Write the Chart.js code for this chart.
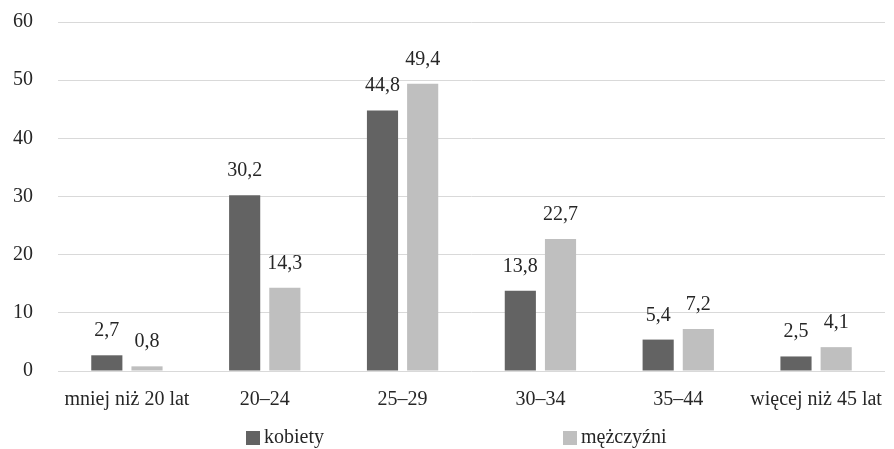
<!DOCTYPE html>
<html lang="pl">
<head>
<meta charset="utf-8">
<title>Wiek</title>
<script src="https://cdn.jsdelivr.net/npm/chart.js@4/dist/chart.umd.min.js"></script>
<style>
  html, body { margin: 0; padding: 0; background: #ffffff; }
  #wrap { width: 894px; height: 449px; position: relative; }
</style>
</head>
<body>
<div id="wrap"><canvas id="chart"></canvas></div>
<script>
// Age groups and shares (%) per sex
const categories = ['mniej niż 20 lat', '20–24', '25–29', '30–34', '35–44', 'więcej niż 45 lat'];
const kobiety = [2.7, 30.2, 44.8, 13.8, 5.4, 2.5];
const mezczyzni = [0.8, 14.3, 49.4, 22.7, 7.2, 4.1];
const seriesNames = ['kobiety', 'mężczyźni'];
const yTicks = [0, 10, 20, 30, 40, 50, 60];

const FONT = "'Liberation Serif', 'Times New Roman', 'DejaVu Serif', serif";
const TEXT = '#262626';
const COLORS = ['#636363', '#bfbfbf'];

// Value labels above each bar, with a decimal comma
const valueLabels = {
  id: 'valueLabels',
  afterDatasetsDraw(chart) {
    const ctx = chart.ctx;
    ctx.save();
    ctx.font = '20px ' + FONT;
    ctx.fillStyle = TEXT;
    ctx.textAlign = 'center';
    ctx.textBaseline = 'alphabetic';
    chart.data.datasets.forEach((ds, i) => {
      chart.getDatasetMeta(i).data.forEach((bar, j) => {
        const txt = ds.data[j].toFixed(1).replace('.', ',');
        ctx.fillText(txt, bar.x, bar.y - 19);
      });
    });
    ctx.restore();
  }
};

// Legend spread across the bottom
const spreadLegend = {
  id: 'spreadLegend',
  afterDraw(chart, args, opts) {
    const ctx = chart.ctx;
    ctx.save();
    ctx.font = '20px ' + FONT;
    ctx.textBaseline = 'middle';
    ctx.textAlign = 'left';
    chart.data.datasets.forEach((ds, i) => {
      const x = opts.xs[i];
      ctx.fillStyle = ds.backgroundColor;
      ctx.fillRect(x, opts.y - 7, 14, 14);
      ctx.fillStyle = TEXT;
      ctx.fillText(ds.label, x + 18, opts.y);
    });
    ctx.restore();
  }
};

new Chart(document.getElementById('chart'), {
  type: 'bar',
  data: {
    labels: categories,
    datasets: [
      { label: seriesNames[0], data: kobiety, backgroundColor: COLORS[0] },
      { label: seriesNames[1], data: mezczyzni, backgroundColor: COLORS[1] }
    ]
  },
  options: {
    responsive: true,
    maintainAspectRatio: false,
    animation: false,
    datasets: { bar: { categoryPercentage: 0.583, barPercentage: 0.775 } },
    layout: { padding: { left: 13, right: 9, top: 22, bottom: 37 } },
    scales: {
      x: {
        grid: { display: false, drawTicks: false },
        border: { display: false },
        ticks: {
          color: TEXT, font: { family: FONT, size: 20 },
          padding: 17, maxRotation: 0, autoSkip: false
        },
        afterFit(scale) {
          scale.paddingLeft = 0; scale.paddingRight = 0;
          scale.height = 41;
        }
      },
      y: {
        min: 0, max: 60,
        afterBuildTicks(axis) { axis.ticks = yTicks.map(v => ({ value: v })); },
        grid: { color: '#d9d9d9', lineWidth: 1, drawTicks: false },
        border: { display: false },
        ticks: { color: TEXT, font: { family: FONT, size: 20 }, padding: 25 },
        afterFit(scale) {
          scale.paddingTop = 0; scale.paddingBottom = 0;
          scale.width = 45;
        }
      }
    },
    plugins: {
      legend: { display: false },
      tooltip: { enabled: false },
      spreadLegend: { xs: [246, 563], y: 438 }
    }
  },
  plugins: [valueLabels, spreadLegend]
});
</script>
</body>
</html>
